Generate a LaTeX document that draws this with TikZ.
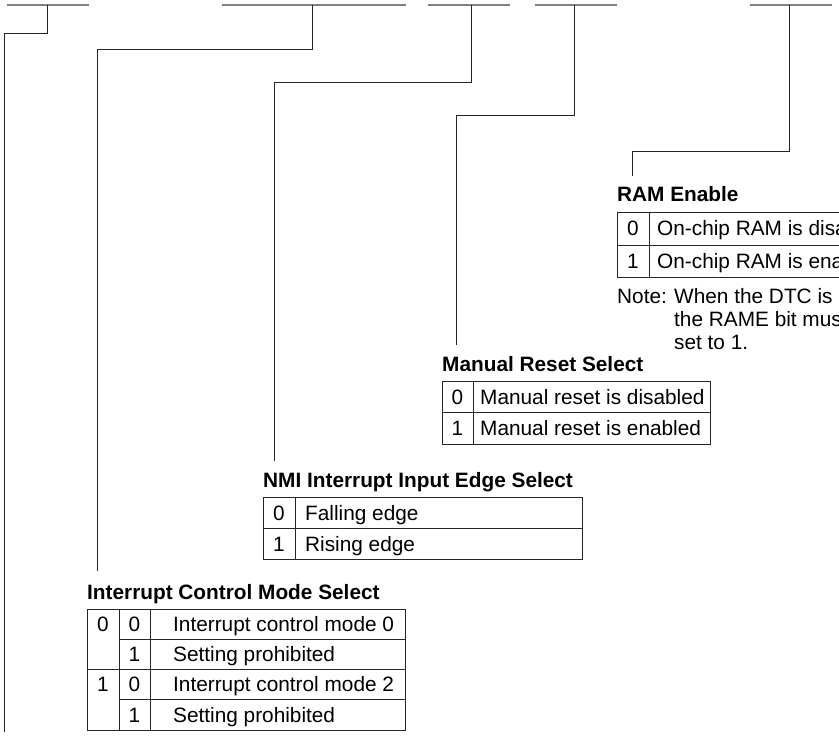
\documentclass[tikz,border=0pt]{standalone}
\usepackage{fontspec}
\setmainfont{Liberation Sans}
\begin{document}
\begin{tikzpicture}[x=1pt,y=-1pt,
  bar/.style={draw=black!50, line width=1.6pt},
  conn/.style={draw=black!85, line width=0.9pt},
  tbl/.style={draw=black!85, line width=0.9pt},
  ttl/.style={anchor=base west, inner sep=0pt, font=\fontsize{20.8}{24}\selectfont\bfseries},
  txt/.style={anchor=base west, inner sep=0pt, font=\fontsize{20.8}{24}\selectfont},
  bit/.style={anchor=base, inner sep=0pt, font=\fontsize{20.8}{24}\selectfont}]
\useasboundingbox (0,0) rectangle (839,738);
\clip (0,0) rectangle (839,738);

% register bit-field bars
\draw[bar] (7,5) -- (89,5);
\draw[bar] (222,5) -- (406,5);
\draw[bar] (428,5) -- (510,5);
\draw[bar] (535,5) -- (617,5);
\draw[bar] (750,5) -- (832,5);

\coordinate (d1) at (47,5);
\coordinate (d2) at (312,5);
\coordinate (d3) at (471,5);
\coordinate (d4) at (574,5);
\coordinate (d5) at (789,5);
\coordinate (e1) at (4,732);
\coordinate (e2) at (97,571);
\coordinate (e3) at (274,461);
\coordinate (e4) at (456,345);
\coordinate (e5) at (632,176);

\draw[conn] (d1) -- ++(0,28) -| (e1);
\draw[conn] (d2) -- ++(0,44) -| (e2);
\draw[conn] (d3) -- ++(0,77) -| (e3);
\draw[conn] (d4) -- ++(0,110) -| (e4);
\draw[conn] (d5) -- ++(0,146) -| (e5);

% RAM Enable
\node[ttl] (ramt) at (617,202) {RAM Enable};
\draw[tbl] (617,212) rectangle (870,277);
\draw[tbl] (617,245) -- (870,245);
\draw[tbl] (649,212) -- (649,277);
\node[bit] (ram0) at (633,236) {0};
\node[txt] (ram0t) at (657,236) {On-chip RAM is disabled};
\node[bit] (ram1) at (633,268.5) {1};
\node[txt] (ram1t) at (657,268.5) {On-chip RAM is enabled};
\node[txt] (note) at (617,304) {Note:};
\node[txt] (note1) at (674,304) {When the DTC is used,};
\node[txt] (note2) at (674,327) {the RAME bit must be};
\node[txt] (note3) at (674,350) {set to 1.};

% Manual Reset Select
\node[ttl] (mrt) at (442,371) {Manual Reset Select};
\draw[tbl] (442,381) rectangle (710,444);
\draw[tbl] (442,412.5) -- (710,412.5);
\draw[tbl] (473,381) -- (473,444);
\node[bit] (mr0) at (457.5,404.5) {0};
\node[txt] (mr0t) at (480,404.5) {Manual reset is disabled};
\node[bit] (mr1) at (457.5,435.5) {1};
\node[txt] (mr1t) at (480,435.5) {Manual reset is enabled};

% NMI Interrupt Input Edge Select
\node[ttl] (nmit) at (263,487) {NMI Interrupt Input Edge Select};
\draw[tbl] (263,497) rectangle (582,559);
\draw[tbl] (263,528) -- (582,528);
\draw[tbl] (295,497) -- (295,559);
\node[bit] (nmi0) at (279,520) {0};
\node[txt] (nmi0t) at (305,520) {Falling edge};
\node[bit] (nmi1) at (279,551) {1};
\node[txt] (nmi1t) at (305,551) {Rising edge};

% Interrupt Control Mode Select
\node[ttl] (icmt) at (87,599) {Interrupt Control Mode Select};
\draw[tbl] (87,609) rectangle (405,730);
\draw[tbl] (119,639) -- (405,639);
\draw[tbl] (87,669) -- (405,669);
\draw[tbl] (119,699) -- (405,699);
\draw[tbl] (119,609) -- (119,730);
\draw[tbl] (150,609) -- (150,730);
\node[bit] (ia0) at (103,631.5) {0};
\node[bit] (ia1) at (103,691.5) {1};
\node[bit] (ib0) at (134.5,631.5) {0};
\node[bit] (ib1) at (134.5,661.5) {1};
\node[bit] (ib2) at (134.5,691.5) {0};
\node[bit] (ib3) at (134.5,722) {1};
\node[txt] (ic0) at (173,631.5) {Interrupt control mode 0};
\node[txt] (ic1) at (173,661.5) {Setting prohibited};
\node[txt] (ic2) at (173,691.5) {Interrupt control mode 2};
\node[txt] (ic3) at (173,722) {Setting prohibited};
\end{tikzpicture}
\end{document}
